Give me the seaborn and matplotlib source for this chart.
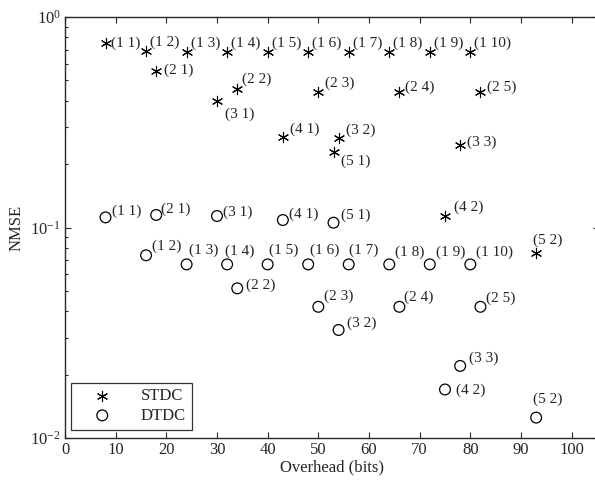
import pandas as pd
import seaborn as sns
import matplotlib.pyplot as plt

sns.set_style('ticks')
plt.rcParams['font.family'] = ['Liberation Serif', 'DejaVu Serif']
plt.rcParams['mathtext.fontset'] = 'stix'

# (code length, order) labels, overhead in bits, NMSE
labels = ['(1 1)', '(1 2)', '(1 3)', '(1 4)', '(1 5)', '(1 6)', '(1 7)', '(1 8)', '(1 9)', '(1 10)',
          '(2 1)', '(2 2)', '(2 3)', '(2 4)', '(2 5)',
          '(3 1)', '(3 2)', '(3 3)', '(4 1)', '(4 2)', '(5 1)', '(5 2)']
overhead = [8, 16, 24, 32, 40, 48, 56, 64, 72, 80,
            18, 34, 50, 66, 82,
            30, 54, 78, 43, 75, 53, 93]
stdc_nmse = [0.75, 0.69, 0.68, 0.68, 0.68, 0.68, 0.68, 0.68, 0.68, 0.68,
             0.556, 0.455, 0.439, 0.439, 0.439,
             0.40, 0.265, 0.247, 0.268, 0.114, 0.229, 0.0754]
dtdc_nmse = [0.1117, 0.0738, 0.0668, 0.0668, 0.0668, 0.0668, 0.0668, 0.0668, 0.0668, 0.0668,
             0.1147, 0.0514, 0.042, 0.042, 0.042,
             0.1134, 0.0326, 0.022, 0.1085, 0.017, 0.1054, 0.0125]

# label placement (pixels from marker)
stdc_offsets = [(5, 0), (4, 9), (4, 9), (4, 9), (4, 9), (4, 9), (4, 9), (4, 9), (4, 9), (4, 9),
                (8, 0), (5, 10), (7, 9), (6, 5), (7, 5),
                (8, -13), (7, 8), (7, 3), (7, 8), (9, 8), (7, -10), (-3, 13)]
dtdc_offsets = [(6, 6), (6, 9), (2, 14), (-2, 13), (1, 14), (2, 14), (0, 14), (6, 12), (6, 12), (6, 12),
                (5, 6), (9, 3), (6, 11), (5, 10), (6, 9),
                (6, 4), (8, 7), (9, 8), (6, 6), (11, -1), (7, 7), (-3, 18)]

df_s = pd.DataFrame({'overhead': overhead, 'nmse': stdc_nmse, 'label': labels})
df_d = pd.DataFrame({'overhead': overhead, 'nmse': dtdc_nmse, 'label': labels})

fig = plt.figure(figsize=(5.95, 4.83), dpi=100)
ax = fig.add_axes([65 / 595, 45 / 483, 534 / 595, 421 / 483])

sns.scatterplot(data=df_s, x='overhead', y='nmse', marker=(6, 2, 0), color='k',
                s=55, linewidth=0.8, label='STDC', ax=ax)
sns.scatterplot(data=df_d, x='overhead', y='nmse', marker='o', facecolor='none',
                edgecolor='k', s=60, linewidth=0.9, label='DTDC', ax=ax)

for df, offs in [(df_s, stdc_offsets), (df_d, dtdc_offsets)]:
    for (_, r), (dx, dy) in zip(df.iterrows(), offs):
        ax.annotate(r['label'], (r['overhead'], r['nmse']), xytext=(dx, dy),
                    textcoords='offset pixels', ha='left', va='center', fontsize=11)

ax.set_yscale('log')
ax.set_xlim(0, 105.4)
ax.set_ylim(1e-2, 1)
ax.set_xticks(range(0, 101, 10))
ax.set_xlabel('Overhead (bits)', fontsize=12, labelpad=1)
ax.set_ylabel('NMSE', fontsize=12, labelpad=4)
ax.tick_params(which='both', direction='in', top=True, right=True, labelsize=12)
ax.tick_params(which='major', length=4, width=0.8, pad=3)
ax.tick_params(which='minor', length=2.5, width=0.8)
for sp in ax.spines.values():
    sp.set_linewidth(1.0)

leg = ax.legend(loc='lower left', fontsize=12, frameon=True, fancybox=False,
                edgecolor='k', handlelength=3.0, handletextpad=0.8, borderpad=0.35,
                labelspacing=0.2, bbox_to_anchor=(0.012, 0.02), borderaxespad=0.0)
leg.get_frame().set_linewidth(0.9)

fig.savefig('out.png', dpi=100)
